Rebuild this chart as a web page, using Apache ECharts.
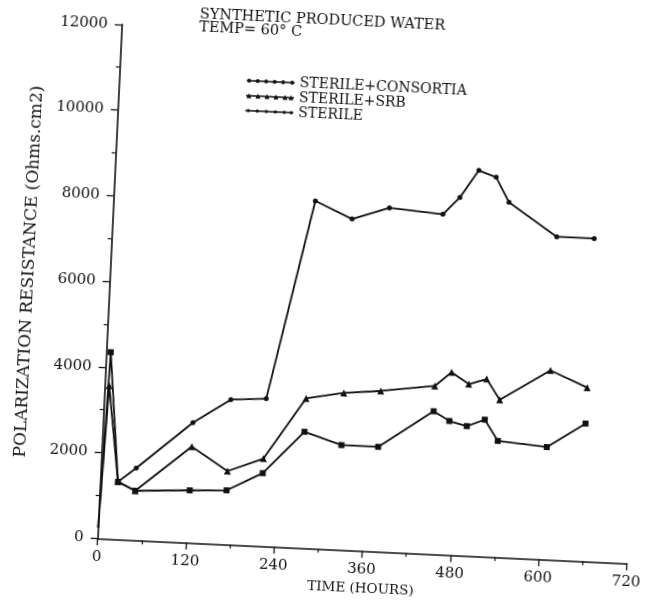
<!DOCTYPE html>
<html>
<head>
<meta charset="utf-8">
<script src="https://cdn.jsdelivr.net/npm/echarts@6/dist/echarts.min.js"></script>
<style>
  html, body { margin: 0; padding: 0; background: #fff; overflow: hidden; }
  #chart { width: 657px; height: 603px; transform: rotate(2.7deg); transform-origin: 96.7px 538.3px; }
</style>
</head>
<body>
<div id="chart"></div>
<script>
// Time in hours
const timeHours = [0, 6, 24, 48, 122, 172, 220, 274, 325, 375, 448, 470, 494, 518, 537, 604, 655];
// Polarization resistance (Ohms.cm2)
const consortiaValues = [null, null, 1340, 1680, 2800, 3380, 3440, 8100, 7720, 8020, 7930, 8340, 8990, 8850, 8280, 7530, 7530];
const srbValues       = [250, 3570, 1340, 1150, 2240, 1710, 2040, 3490, 3660, 3745, 3920, 4260, 4000, 4140, 3670, 4410, 4050];
const sterileValues   = [250, 4350, 1340, 1150, 1220, 1260, 1700, 2710, 2440, 2440, 3330, 3120, 3020, 3190, 2710, 2620, 3210];
const seriesNames = ['STERILE+CONSORTIA', 'STERILE+SRB', 'STERILE'];
const xTicks = [0, 120, 240, 360, 480, 600, 720];
const yTicks = [0, 2000, 4000, 6000, 8000, 10000, 12000];

function pairs(vals) {
  return timeHours
    .map((t, i) => vals[i] === null ? null : (t === 0 ? { value: [t, vals[i]], symbol: 'none' } : [t, vals[i]]))
    .filter(p => p !== null);
}

// legend icons: line with several markers
function lineRect() { return 'M0,2.8 L48,2.8 L48,4.2 L0,4.2 Z '; }
function dotIcon() {
  let p = 'path://' + lineRect();
  [2.5, 11, 19.5, 28, 36.5, 45.5].forEach(x => {
    p += 'M' + (x - 2) + ',3.5 a2,2 0 1,1 4,0 a2,2 0 1,1 -4,0 Z ';
  });
  return p;
}
function triIcon() {
  let p = 'path://' + lineRect();
  [3, 12, 21, 30, 39, 45].forEach(x => {
    p += 'M' + (x - 2.5) + ',6 L' + x + ',1 L' + (x + 2.5) + ',6 Z ';
  });
  return p;
}
function sqIcon() {
  let p = 'path://' + lineRect();
  [3, 12, 21, 30, 39, 46].forEach(x => {
    p += 'M' + (x - 1.2) + ',2 L' + (x + 1.2) + ',2 L' + (x + 1.2) + ',5 L' + (x - 1.2) + ',5 Z ';
  });
  return p;
}

const FONT = 'DejaVu Serif';
const INK = '#111';

const chart = echarts.init(document.getElementById('chart'), null, { renderer: 'canvas' });
chart.setOption({
  animation: false,
  backgroundColor: '#fff',
  title: {
    text: 'SYNTHETIC PRODUCED WATER\nTEMP= 60° C',
    left: 175,
    top: 4,
    padding: 0,
    textStyle: { fontFamily: FONT, fontSize: 14.5, fontWeight: 'normal', color: INK, lineHeight: 12.5 }
  },
  legend: {
    orient: 'vertical',
    left: 225,
    top: 67,
    padding: 0,
    itemWidth: 48,
    itemHeight: 5,
    itemGap: 1,
    symbolKeepAspect: true,
    textStyle: { fontFamily: FONT, fontSize: 14, color: INK, lineHeight: 14 },
    data: [
      { name: seriesNames[0], icon: dotIcon() },
      { name: seriesNames[1], icon: triIcon() },
      { name: seriesNames[2], icon: sqIcon() }
    ]
  },
  grid: { left: 96.7, top: 23.8, right: 29.6, bottom: 64.7 },
  xAxis: {
    type: 'value',
    min: xTicks[0],
    max: xTicks[xTicks.length - 1],
    interval: 120,
    name: 'TIME (HOURS)',
    nameLocation: 'middle',
    nameGap: 30,
    nameTextStyle: { fontFamily: FONT, fontSize: 13.5, color: INK },
    axisLine: { lineStyle: { color: INK, width: 1.6 } },
    axisTick: { length: 7, lineStyle: { color: INK, width: 1.3 } },
    minorTick: { show: true, splitNumber: 2, length: 4, lineStyle: { color: INK, width: 1.2 } },
    splitLine: { show: false },
    axisLabel: { margin: 11, fontFamily: FONT, fontSize: 15, color: INK, formatter: v => String(v) }
  },
  yAxis: {
    type: 'value',
    min: yTicks[0],
    max: yTicks[yTicks.length - 1],
    interval: 2000,
    name: 'POLARIZATION RESISTANCE (Ohms.cm2)',
    nameLocation: 'middle',
    nameGap: 66,
    nameTextStyle: { fontFamily: FONT, fontSize: 17, color: INK, padding: [0, 0, 0, 12] },
    axisLine: { show: true, lineStyle: { color: INK, width: 1.6 } },
    axisTick: { show: true, length: 7, lineStyle: { color: INK, width: 1.3 } },
    minorTick: { show: true, splitNumber: 2, length: 4, lineStyle: { color: INK, width: 1.2 } },
    splitLine: { show: false },
    axisLabel: { margin: 14, fontFamily: FONT, fontSize: 15, color: INK, formatter: v => String(v) }
  },
  series: [
    {
      name: seriesNames[0], type: 'line', data: pairs(consortiaValues),
      symbol: 'circle', symbolSize: 5, color: INK,
      lineStyle: { color: INK, width: 1.8 }, itemStyle: { color: INK }
    },
    {
      name: seriesNames[1], type: 'line', data: pairs(srbValues),
      symbol: 'triangle', symbolSize: 7, color: INK,
      lineStyle: { color: INK, width: 1.8 }, itemStyle: { color: INK }
    },
    {
      name: seriesNames[2], type: 'line', data: pairs(sterileValues),
      symbol: 'rect', symbolSize: 6, color: INK,
      lineStyle: { color: INK, width: 1.8 }, itemStyle: { color: INK }
    }
  ]
});
</script>
</body>
</html>
